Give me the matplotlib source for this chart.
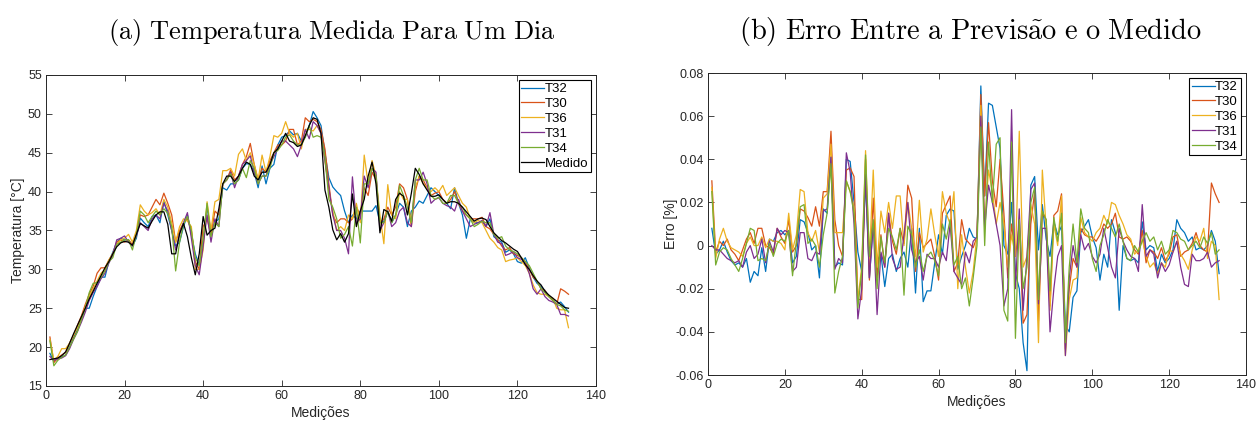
import matplotlib
matplotlib.use('Agg')
import matplotlib.pyplot as plt
import numpy as np

# Medições (índice de 1 a 133)
medicoes = list(range(1, 134))

# Temperatura medida [°C]
medido = [18.4, 18.5, 18.6, 18.9, 19.4, 20.5, 21.7, 22.8, 23.9, 25.0, 26.2, 27.2, 28.2, 29.2, 30.2, 31.0, 32.0, 32.9, 33.4, 33.6,
          33.5, 33.1, 34.5, 35.9, 35.6, 35.3, 36.2, 37.0, 37.4, 37.4, 35.8, 32.0, 32.0, 34.6, 35.9, 34.2, 31.5, 29.3, 32.0, 36.8,
          34.4, 35.0, 35.3, 37.8, 41.0, 42.0, 42.0, 41.3, 42.0, 43.0, 43.8, 43.5, 42.0, 41.5, 42.5, 42.5, 43.5, 45.0, 45.5, 46.5,
          47.5, 46.5, 46.3, 45.8, 46.0, 47.2, 48.5, 49.5, 49.3, 47.5, 40.2, 38.0, 35.1, 33.8, 34.6, 33.5, 34.6, 39.7, 35.5, 37.5,
          39.0, 42.0, 43.8, 41.0, 34.7, 37.7, 37.4, 36.2, 39.0, 39.8, 39.4, 37.0, 39.8, 43.0, 42.2, 41.0, 40.2, 39.4, 39.4, 39.6,
          39.0, 38.5, 38.7, 38.7, 38.5, 38.0, 37.4, 36.8, 36.2, 36.5, 36.6, 36.4, 35.5, 34.7, 34.2, 33.7, 33.4, 33.0, 32.6, 32.3,
          31.5, 30.6, 30.0, 29.2, 28.5, 28.0, 27.2, 26.7, 26.3, 25.9, 25.5, 25.1, 25.0]

# Previsões de temperatura [°C]
t32 = [19.2, 18.2, 18.5, 18.7, 19.0, 20.0, 21.2, 22.3, 23.5, 25.0, 25.0, 26.5, 27.8, 29.0, 29.0, 31.0, 32.2, 33.5, 34.0, 33.8,
       33.8, 33.0, 34.0, 36.6, 36.0, 35.5, 36.8, 37.0, 36.0, 38.8, 37.0, 35.0, 33.0, 33.5, 35.5, 37.0, 34.5, 32.0, 30.5, 33.5,
       38.0, 34.8, 36.0, 36.5, 40.5, 40.2, 41.0, 41.0, 41.5, 43.0, 43.6, 43.5, 42.5, 40.5, 43.3, 41.0, 43.0, 43.5, 46.0, 47.0,
       47.2, 47.8, 47.3, 47.5, 46.5, 47.0, 48.5, 50.3, 49.5, 48.5, 45.0, 41.8, 40.6, 40.0, 39.5, 37.5, 36.0, 37.0, 36.5, 37.5,
       37.5, 37.5, 37.5, 38.2, 36.0, 36.2, 37.5, 36.0, 37.0, 38.5, 38.0, 35.5, 37.5, 38.0, 38.8, 38.5, 39.5, 40.5, 40.0, 39.5,
       39.0, 38.5, 37.8, 40.5, 38.5, 37.0, 34.0, 36.5, 36.0, 36.0, 36.2, 35.5, 36.5, 34.2, 33.8, 33.5, 32.2, 32.5, 32.0, 31.0,
       30.8, 31.5, 30.2, 29.0, 28.2, 27.8, 27.3, 26.5, 26.2, 25.5, 25.8, 25.2, 24.5]
t30 = [21.3, 18.0, 18.6, 19.0, 19.3, 20.5, 21.5, 22.8, 24.0, 25.5, 26.8, 27.8, 29.5, 30.2, 30.2, 31.2, 32.0, 33.5, 33.8, 33.5,
       33.8, 33.2, 34.5, 37.0, 36.8, 37.0, 38.0, 39.0, 38.3, 39.8, 38.5, 37.0, 33.5, 35.0, 36.0, 36.5, 35.0, 31.0, 30.0, 35.5,
       36.5, 34.5, 37.5, 37.0, 41.0, 41.5, 42.8, 41.5, 42.0, 43.5, 44.5, 46.2, 43.5, 41.5, 43.0, 42.5, 44.0, 45.0, 46.0, 46.0,
       46.5, 48.0, 48.0, 46.0, 46.5, 49.5, 49.0, 49.3, 49.0, 48.0, 45.5, 41.0, 37.0, 36.0, 36.5, 36.5, 36.0, 36.5, 38.0, 37.0,
       40.5, 39.5, 42.5, 41.5, 36.0, 36.5, 38.0, 37.0, 38.0, 41.0, 40.5, 39.0, 35.5, 40.0, 42.0, 41.5, 40.5, 39.5, 39.8, 40.0,
       39.0, 38.5, 39.0, 40.0, 38.5, 37.5, 37.0, 36.5, 36.5, 36.5, 36.7, 35.5, 35.2, 34.5, 33.8, 33.0, 32.5, 32.8, 32.0, 31.8,
       31.5, 31.0, 30.0, 29.0, 28.5, 27.5, 27.3, 26.5, 26.0, 25.5, 27.5, 27.2, 26.8]
t36 = [21.0, 18.3, 18.8, 19.8, 19.8, 20.5, 21.5, 22.5, 23.8, 25.2, 26.5, 27.5, 28.5, 29.5, 30.0, 31.2, 32.0, 33.2, 33.8, 34.0,
       34.5, 33.5, 35.0, 38.3, 37.5, 37.0, 37.3, 37.8, 37.0, 39.0, 38.0, 36.0, 33.5, 35.5, 36.5, 36.2, 35.5, 30.0, 30.0, 32.5,
       38.7, 35.0, 38.7, 39.0, 42.7, 42.7, 43.0, 42.0, 44.8, 45.5, 44.0, 45.0, 43.5, 41.5, 44.7, 42.5, 44.5, 47.2, 47.0, 47.5,
       49.0, 47.5, 47.0, 47.5, 45.5, 48.0, 48.0, 47.8, 48.5, 47.5, 44.0, 40.0, 37.5, 35.0, 35.5, 35.0, 37.0, 36.5, 38.5, 36.0,
       44.7, 41.0, 44.0, 42.0, 37.0, 33.3, 40.9, 37.0, 36.5, 40.0, 39.0, 39.0, 36.0, 40.5, 42.0, 41.0, 40.5, 40.0, 40.5, 40.0,
       40.8, 39.5, 40.0, 40.5, 39.5, 38.5, 38.0, 36.5, 36.0, 36.3, 36.0, 35.0, 34.0, 33.5, 32.8, 32.5, 31.0, 31.2, 31.3, 31.5,
       31.0, 30.5, 29.5, 28.0, 27.0, 26.8, 26.8, 26.5, 26.3, 25.0, 24.8, 24.8, 22.5]
t31 = [18.8, 18.3, 18.5, 18.6, 18.9, 19.8, 21.0, 22.0, 23.2, 24.5, 26.0, 27.0, 27.8, 28.8, 29.5, 30.8, 31.8, 33.8, 34.0, 34.3,
       33.5, 33.0, 34.3, 36.0, 35.5, 35.0, 36.5, 37.0, 36.5, 38.5, 37.5, 35.0, 32.5, 34.5, 36.0, 37.3, 34.0, 30.5, 29.3, 33.0,
       37.0, 33.5, 36.5, 35.5, 41.0, 41.5, 42.5, 40.5, 42.0, 43.5, 44.0, 44.6, 42.5, 41.0, 42.0, 42.0, 43.5, 44.5, 45.5, 46.5,
       46.5, 46.0, 45.5, 44.5, 46.0, 48.0, 46.8, 49.0, 48.5, 47.5, 44.0, 40.5, 37.0, 35.0, 35.0, 34.0, 32.0, 41.9, 36.0, 36.5,
       42.0, 40.5, 43.0, 42.5, 35.0, 36.0, 37.5, 35.5, 36.0, 37.5, 38.0, 36.0, 35.5, 41.5, 41.5, 42.5, 41.0, 38.5, 39.0, 39.2,
       38.5, 38.2, 38.0, 37.5, 39.0, 37.5, 36.5, 35.5, 35.8, 36.0, 36.3, 35.5, 37.3, 34.5, 33.5, 33.3, 31.8, 32.0, 32.3, 31.5,
       31.3, 30.8, 29.5, 27.5, 26.8, 27.5, 26.5, 26.0, 25.8, 25.5, 24.2, 24.2, 24.0]
t34 = [20.8, 17.6, 18.3, 18.7, 19.0, 20.0, 21.0, 22.0, 23.5, 25.0, 27.0, 28.2, 28.3, 29.0, 29.8, 31.0, 31.5, 33.2, 33.5, 33.8,
       33.8, 32.5, 34.5, 37.5, 37.0, 36.0, 36.8, 37.5, 37.0, 37.8, 37.2, 35.5, 29.8, 33.5, 35.8, 36.8, 35.0, 31.5, 30.5, 34.0,
       38.5, 34.2, 36.0, 35.5, 41.0, 41.5, 42.3, 41.0, 41.5, 43.0, 41.8, 44.0, 43.0, 41.0, 42.0, 42.0, 43.0, 45.0, 45.3, 46.0,
       47.0, 47.3, 46.5, 46.0, 46.0, 47.0, 48.5, 47.0, 47.2, 47.0, 44.5, 39.0, 38.0, 36.5, 34.0, 34.5, 35.5, 33.0, 38.0, 33.4,
       41.0, 41.0, 43.0, 42.0, 36.0, 36.0, 37.5, 36.0, 37.0, 40.8, 39.5, 38.0, 36.0, 41.5, 43.0, 41.5, 41.5, 39.5, 39.0, 39.3,
       38.5, 38.5, 39.5, 39.5, 38.5, 38.0, 37.0, 36.5, 35.5, 35.8, 36.2, 36.0, 36.0, 34.5, 34.0, 34.2, 33.0, 32.5, 32.3, 32.0,
       31.5, 31.0, 30.5, 29.5, 28.5, 27.5, 27.0, 26.5, 26.0, 25.5, 25.3, 24.8, 24.6]

# Erro entre a previsão e o medido [%]
e32 = [0.008, -0.004, -0.002, 0.002, -0.003, -0.007, -0.009, -0.008, -0.010, -0.006, -0.017, -0.012, -0.014, -0.001, -0.012,
       0.003, 0.002, 0.006, 0.007, 0.005, 0.007, -0.008, -0.005, 0.012, 0.011, 0.006, -0.002, 0.000, -0.015, 0.017,
       0.015, 0.041, -0.010, -0.008, -0.009, 0.040, 0.039, 0.020, -0.003, -0.012, 0.030, -0.015, 0.010, -0.007, -0.004,
       -0.019, -0.006, -0.004, -0.012, -0.006, -0.003, -0.010, 0.008, -0.022, 0.008, -0.026, -0.021, -0.021, -0.008, 0.005,
       -0.004, 0.014, 0.017, 0.016, -0.011, -0.005, 0.000, 0.008, 0.004, 0.003, 0.074, 0.023, 0.066, 0.065, 0.055,
       0.045, 0.000, -0.004, 0.020, -0.013, -0.020, -0.045, -0.058, 0.028, 0.032, -0.002, 0.019, 0.003, -0.005, 0.011,
       0.005, 0.009, -0.037, -0.040, -0.024, -0.021, 0.006, 0.009, 0.012, 0.004, -0.001, -0.016, -0.004, -0.010, 0.012,
       0.006, -0.030, 0.000, -0.006, -0.007, -0.006, -0.008, 0.011, -0.002, 0.000, -0.001, -0.012, -0.004, -0.008, -0.006,
       -0.002, 0.012, 0.008, 0.006, 0.002, 0.004, -0.002, -0.001, -0.002, 0.000, 0.007, 0.002, -0.013]
e30 = [0.030, -0.003, 0.002, 0.000, 0.003, -0.002, -0.004, -0.007, -0.002, 0.003, 0.006, 0.001, 0.008, 0.008, 0.000,
       -0.001, -0.004, 0.008, 0.004, 0.001, 0.012, -0.003, 0.000, 0.017, 0.016, 0.013, 0.009, 0.018, 0.009, 0.025,
       0.025, 0.053, 0.012, 0.000, -0.005, 0.035, 0.036, 0.032, -0.025, -0.025, 0.040, -0.016, 0.022, -0.015, 0.005,
       -0.010, 0.015, 0.002, -0.004, 0.008, 0.001, 0.028, 0.022, -0.012, 0.006, -0.001, 0.001, 0.003, -0.005, -0.016,
       0.015, 0.019, 0.023, -0.012, -0.008, 0.012, 0.003, 0.001, -0.001, 0.004, 0.070, 0.023, 0.057, 0.030, 0.018,
       0.040, 0.015, -0.015, 0.010, -0.005, 0.010, -0.036, -0.032, 0.010, 0.025, -0.035, 0.015, 0.012, -0.028, 0.014,
       0.016, 0.024, -0.048, -0.020, -0.006, -0.010, 0.008, 0.005, 0.004, 0.004, 0.002, 0.005, 0.010, 0.008, 0.010,
       0.015, 0.004, 0.003, 0.004, 0.002, -0.002, -0.004, 0.007, -0.008, -0.002, -0.003, -0.006, -0.001, -0.007, -0.004,
       0.004, 0.005, -0.005, -0.003, -0.002, 0.001, 0.006, 0.000, -0.002, -0.003, 0.029, 0.024, 0.020]
e36 = [0.027, -0.006, 0.003, 0.008, 0.002, -0.001, -0.002, -0.003, -0.005, 0.001, 0.004, 0.000, 0.000, 0.004, -0.001,
       0.003, 0.002, 0.002, 0.001, -0.002, 0.015, -0.002, 0.005, 0.026, 0.025, 0.006, 0.002, 0.007, -0.003, 0.022,
       0.024, 0.047, 0.006, 0.006, 0.006, 0.030, 0.025, 0.018, -0.025, -0.010, 0.044, -0.006, 0.035, -0.010, 0.016,
       0.006, 0.020, 0.008, 0.023, 0.023, 0.000, 0.020, 0.008, -0.005, 0.021, -0.003, 0.003, 0.017, 0.005, -0.005,
       0.025, 0.015, 0.010, 0.025, -0.020, 0.005, -0.010, -0.022, -0.012, 0.005, 0.065, 0.010, 0.035, 0.025, 0.010,
       0.020, 0.010, -0.010, 0.005, -0.005, 0.053, -0.010, -0.005, 0.019, 0.010, -0.045, 0.035, 0.008, -0.030, 0.010,
       0.000, 0.023, -0.051, -0.025, -0.016, -0.015, 0.013, 0.006, 0.004, 0.002, 0.006, 0.008, 0.014, 0.010, 0.020,
       0.019, 0.014, 0.010, 0.005, 0.003, -0.004, -0.002, 0.003, -0.005, -0.010, -0.008, -0.013, -0.008, -0.010, -0.002,
       -0.003, 0.002, -0.004, -0.007, -0.011, -0.002, 0.004, 0.002, 0.008, -0.006, 0.002, 0.000, -0.025]
e31 = [0.000, -0.002, -0.002, -0.004, -0.006, -0.007, -0.008, -0.007, -0.010, -0.003, 0.000, -0.006, -0.004, 0.003, -0.008,
       0.002, -0.003, 0.008, 0.005, 0.007, 0.006, -0.012, -0.010, 0.006, 0.006, -0.006, -0.007, -0.003, -0.004, 0.016,
       0.017, 0.041, -0.011, -0.006, -0.008, 0.043, 0.034, 0.010, -0.034, -0.020, 0.033, -0.015, 0.010, -0.032, -0.003,
       -0.010, 0.015, -0.006, -0.011, -0.010, 0.005, 0.020, -0.002, -0.008, -0.005, -0.016, -0.004, -0.006, -0.006, -0.010,
       -0.003, -0.007, 0.010, -0.012, -0.015, -0.018, -0.003, -0.008, 0.002, 0.004, 0.060, 0.008, 0.028, 0.020, 0.010,
       0.000, -0.028, -0.020, 0.063, -0.020, 0.017, -0.030, -0.005, 0.026, 0.029, -0.027, 0.008, 0.008, -0.040, -0.020,
       -0.005, 0.000, -0.051, -0.015, 0.000, -0.010, 0.005, -0.002, 0.001, -0.005, -0.008, -0.004, 0.008, -0.001, -0.010,
       -0.015, 0.008, 0.002, -0.002, -0.005, -0.006, -0.012, 0.019, -0.005, -0.002, -0.004, -0.015, -0.008, -0.012, -0.009,
       -0.003, 0.002, -0.010, -0.018, -0.019, -0.004, -0.007, -0.007, -0.006, -0.003, -0.010, -0.008, -0.007]
e34 = [0.025, -0.009, -0.003, -0.001, -0.002, -0.006, -0.009, -0.012, -0.006, 0.001, 0.008, 0.007, -0.007, -0.006, -0.007,
       0.001, -0.005, 0.001, 0.003, 0.002, 0.007, -0.014, 0.002, 0.018, 0.019, 0.001, 0.003, 0.000, -0.010, 0.005,
       0.015, 0.038, -0.022, -0.012, -0.005, 0.030, 0.025, 0.015, -0.029, -0.012, 0.042, -0.005, 0.012, -0.020, 0.004,
       -0.008, 0.008, 0.004, -0.002, 0.008, -0.023, 0.009, 0.005, -0.010, -0.002, -0.012, -0.005, -0.003, -0.007, -0.014,
       0.010, 0.003, 0.012, -0.009, -0.005, -0.020, -0.015, -0.028, -0.015, 0.000, 0.055, 0.000, 0.048, 0.020, 0.047,
       0.050, -0.030, -0.035, 0.048, -0.043, 0.012, -0.020, -0.010, 0.020, 0.027, -0.025, 0.016, 0.012, -0.021, 0.013,
       0.002, 0.015, -0.045, -0.010, 0.010, -0.008, 0.017, 0.008, 0.006, -0.006, -0.012, 0.000, 0.005, 0.012, 0.008,
       0.004, 0.010, 0.002, -0.006, -0.007, 0.000, -0.003, 0.002, 0.006, 0.002, 0.004, -0.002, 0.002, -0.004, -0.002,
       0.007, 0.006, 0.003, 0.002, -0.002, 0.000, 0.002, -0.001, 0.004, 0.001, 0.006, -0.004, -0.002]

nomes = ['T32', 'T30', 'T36', 'T31', 'T34']
cores = ['#0072BD', '#D95319', '#EDB120', '#7E2F8E', '#77AC30']

plt.rcParams['font.family'] = ['Liberation Sans', 'DejaVu Sans']
plt.rcParams['mathtext.fontset'] = 'cm'
fig = plt.figure(figsize=(12.57, 4.25), dpi=100)

ax1 = fig.add_axes([46 / 1257, 39 / 425, 550 / 1257, 311 / 425])
ax2 = fig.add_axes([708 / 1257, 50 / 425, 538 / 1257, 302 / 425])

# (a) temperaturas
for serie, nome, cor in zip([t32, t30, t36, t31, t34], nomes, cores):
    ax1.plot(medicoes, serie, color=cor, lw=0.9, label=nome)
ax1.plot(medicoes, medido, color='black', lw=0.9, label='Medido')
ax1.set_xlim(0, 140)
ax1.set_ylim(15, 55)
ax1.set_xticks(range(0, 141, 20))
ax1.set_yticks(range(15, 56, 5))
ax1.set_xlabel('Medições', fontsize=10, color='#262626', labelpad=3)
ax1.set_ylabel('Temperatura [°C]', fontsize=10, color='#262626', labelpad=2)

# (b) erros
for serie, nome, cor in zip([e32, e30, e36, e31, e34], nomes, cores):
    ax2.plot(medicoes, serie, color=cor, lw=0.9, label=nome)
ax2.set_xlim(0, 140)
ax2.set_ylim(-0.06, 0.08)
ax2.set_xticks(range(0, 141, 20))
ax2.set_yticks(np.arange(-0.06, 0.081, 0.02))
ax2.set_yticklabels(['-0.06', '-0.04', '-0.02', '0', '0.02', '0.04', '0.06', '0.08'])
ax2.set_xlabel('Medições', fontsize=10, color='#262626', labelpad=3)
ax2.set_ylabel('Erro [%]', fontsize=10, color='#262626', labelpad=-2)

for ax in (ax1, ax2):
    ax.tick_params(direction='in', top=True, right=True, length=4, width=0.6,
                   labelsize=9, colors='#262626', pad=3)
    for s in ax.spines.values():
        s.set_color('#262626')
        s.set_linewidth(0.7)
    leg = ax.legend(loc='upper right', fontsize=9.5, handlelength=1.7, handletextpad=0.05,
                    borderpad=0.2, labelspacing=0.2, borderaxespad=0.4, fancybox=False,
                    framealpha=1)
    leg.get_frame().set_edgecolor('black')
    leg.get_frame().set_linewidth(0.8)

fig.text(332 / 1257, 1 - 32 / 425, r'$\mathrm{(a)\ Temperatura\ Medida\ Para\ Um\ Dia}$',
         fontsize=19, ha='center', va='center')
fig.text(970 / 1257, 1 - 32 / 425, r'$\mathrm{(b)\ Erro\ Entre\ a\ Previs\tilde{a}o\ e\ o\ Medido}$',
         fontsize=20.5, ha='center', va='center')

fig.savefig('out.png', dpi=100)
